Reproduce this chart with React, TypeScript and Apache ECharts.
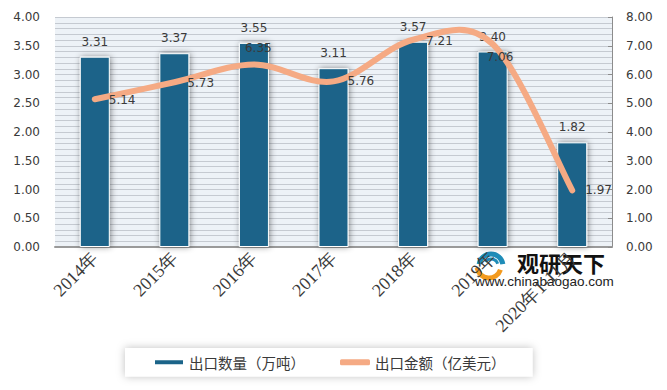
import React, { useEffect, useRef } from "react";
import * as echarts from "echarts";

const categories = ["2014年", "2015年", "2016年", "2017年", "2018年", "2019年", "2020年1-11月"];
const quantity = [3.31, 3.37, 3.55, 3.11, 3.57, 3.4, 1.82];
const amount = [5.14, 5.73, 6.35, 5.76, 7.21, 7.06, 1.97];
const leftTicks = { min: 0, max: 4, interval: 0.5 };
const rightTicks = { min: 0, max: 8, interval: 1 };
const seriesNames = ["出口数量（万吨）", "出口金额（亿美元）"];
// label anchor offsets (px) from each point of the amount line
const amountLabelPos = [
  [15, 2],
  [14, 2],
  [-8, -15],
  [15, 1],
  [14, 2],
  [-5, 14],
  [14, 1],
];

const BAR = "#1b6489";
const LINE = "#f5aa84";
const TXT = "#3a3a3a";

export default function App() {
  const ref = useRef<HTMLDivElement>(null);
  useEffect(() => {
    if (!ref.current) return;
    const chart = echarts.init(ref.current, undefined, { renderer: "svg" });

    const renderSmooth = (params: any, api: any) => {
      if (params.dataIndex !== 0) return null;
      const pts = amount.map((v, i) => api.coord([i, v]));
      const n = pts.length;
      const P = (k: number) => pts[Math.max(0, Math.min(n - 1, k))];
      let d = `M${pts[0][0]},${pts[0][1]}`;
      for (let i = 0; i < n - 1; i++) {
        const p0 = P(i - 1), p1 = P(i), p2 = P(i + 1), p3 = P(i + 2);
        const c1 = [p1[0] + (p2[0] - p0[0]) / 6, p1[1] + (p2[1] - p0[1]) / 6];
        const c2 = [p2[0] - (p3[0] - p1[0]) / 6, p2[1] - (p3[1] - p1[1]) / 6];
        d += ` C${c1[0]},${c1[1]} ${c2[0]},${c2[1]} ${p2[0]},${p2[1]}`;
      }
      return {
        type: "path",
        shape: { pathData: d },
        style: { stroke: LINE, lineWidth: 6, fill: "none", lineCap: "round", lineJoin: "round" },
      };
    };

    chart.setOption({
      animation: false,
      backgroundColor: "#ffffff",
      grid: {
        left: 55,
        right: 55,
        top: 17,
        bottom: 143,
        show: true,
        backgroundColor: "#edf2f7",
        borderWidth: 0,
      },
      legend: {
        left: 125,
        top: 348,
        width: 415,
        padding: [7, 27, 7, 28],
        backgroundColor: "#ffffff",
        shadowBlur: 8,
        shadowColor: "rgba(0,0,0,0.25)",
        itemGap: 35,
        itemWidth: 30,
        itemHeight: 6,
        textStyle: { fontFamily: "Noto Sans CJK SC", fontSize: 14.5, color: TXT },
        data: [
          { name: seriesNames[0], icon: "rect" },
          { name: seriesNames[1], icon: "roundRect", itemStyle: { color: LINE, opacity: 1 } },
        ],
      },
      xAxis: {
        type: "category",
        data: categories,
        axisLine: { show: true, lineStyle: { color: "#9a9a9a", width: 2 } },
        axisTick: { show: false },
        axisLabel: {
          rotate: 45,
          interval: 0,
          margin: 8,
          fontFamily: "Liberation Serif",
          fontSize: 18,
          color: TXT,
        },
      },
      yAxis: [
        {
          type: "value",
          ...leftTicks,
          position: "left",
          axisLine: { show: false },
          axisTick: { show: false },
          splitLine: { show: false },
          axisLabel: {
            formatter: (v: number) => v.toFixed(2),
            fontFamily: "DejaVu Sans",
            fontSize: 12,
            color: TXT,
            margin: 15,
          },
        },
        {
          type: "value",
          ...rightTicks,
          position: "right",
          axisLine: { show: true, lineStyle: { color: "#8c8c8c", width: 1 } },
          axisTick: { show: true, inside: true, length: 4, lineStyle: { color: "#8c8c8c" } },
          splitLine: { show: false },
          axisLabel: {
            formatter: (v: number) => v.toFixed(2),
            fontFamily: "DejaVu Sans",
            fontSize: 12,
            color: TXT,
            margin: 14,
          },
        },
        {
          type: "value",
          min: 0,
          max: 4,
          interval: 0.1,
          show: true,
          position: "left",
          axisLine: { show: false },
          axisTick: { show: false },
          axisLabel: { show: false },
          splitLine: { show: true, lineStyle: { color: "#c5cad1", width: 1 } },
        },
      ],
      series: [
        {
          name: seriesNames[0],
          type: "bar",
          yAxisIndex: 0,
          data: quantity,
          barWidth: 30,
          z: 3,
          itemStyle: {
            color: BAR,
            borderColor: "#ffffff",
            borderWidth: 1,
            shadowBlur: 6,
            shadowOffsetX: 1,
            shadowColor: "rgba(0,0,0,0.45)",
          },
          label: {
            show: true,
            position: "top",
            distance: 9,
            formatter: (p: any) => Number(p.value).toFixed(2),
            fontFamily: "DejaVu Sans",
            fontSize: 12,
            color: TXT,
          },
        },
        {
          name: seriesNames[1],
          type: "custom",
          yAxisIndex: 1,
          data: amount.map((v, i) => [i, v]),
          renderItem: renderSmooth,
          z: 4,
          itemStyle: { color: LINE },
        },
        {
          name: seriesNames[1],
          type: "line",
          yAxisIndex: 1,
          data: amount.map((v, i) => ({
            value: v,
            label: { position: amountLabelPos[i] },
          })),
          symbol: "circle",
          symbolSize: 2,
          showSymbol: true,
          z: 5,
          lineStyle: { opacity: 0, width: 0 },
          itemStyle: { color: "rgba(0,0,0,0)" },
          label: {
            show: true,
            align: "left",
            verticalAlign: "middle",
            formatter: (p: any) => Number(p.value).toFixed(2),
            fontFamily: "DejaVu Sans",
            fontSize: 12,
            color: TXT,
          },
        },
      ],
      graphic: [
        {
          type: "group",
          z: 100,
          children: [
            {
              type: "arc",
              shape: { cx: 491, cy: 266, r: 12, startAngle: Math.PI * 1.05, endAngle: Math.PI * 1.95 },
              style: { stroke: "#1e8cb8", lineWidth: 5, fill: "none" },
            },
            {
              type: "arc",
              shape: { cx: 491, cy: 266, r: 7, startAngle: Math.PI * 1.2, endAngle: Math.PI * 1.9 },
              style: { stroke: "#1e8cb8", lineWidth: 3, fill: "none" },
            },
            {
              type: "arc",
              shape: { cx: 489, cy: 266, r: 12, startAngle: Math.PI * 0.1, endAngle: Math.PI * 0.95 },
              style: { stroke: "#f39a1e", lineWidth: 5, fill: "none" },
            },
            {
              type: "text",
              x: 517,
              y: 251,
              style: {
                text: "观研天下",
                fontFamily: "Noto Sans CJK SC",
                fontWeight: "bold",
                fontSize: 22,
                fill: "#111111",
              },
            },
            {
              type: "text",
              x: 475,
              y: 274,
              style: {
                text: "www.chinabaogao.com",
                fontFamily: "Liberation Sans",
                fontSize: 13.5,
                fill: "#222222",
              },
            },
          ],
        },
      ],
    });
    return () => chart.dispose();
  }, []);
  return (
    <div
      style={{
        position: "fixed",
        left: 0,
        top: 0,
        width: 667,
        height: 390,
        boxSizing: "border-box",
        borderLeft: "3px solid #d2d2d2",
        borderRight: "3px solid #d2d2d2",
        borderBottom: "4px solid #d2d2d2",
        background: "#fff",
      }}
    >
      <div ref={ref} style={{ position: "absolute", left: -3, top: 0, width: 667, height: 390 }} />
    </div>
  );
}
